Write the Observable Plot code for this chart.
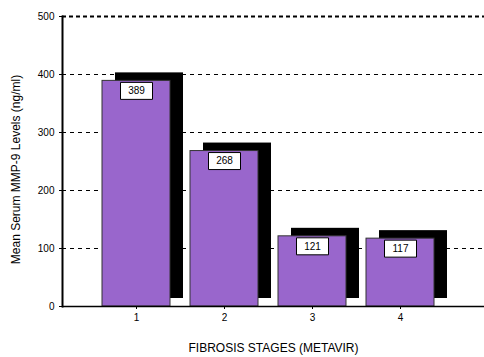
<!DOCTYPE html>
<html>
<head>
<meta charset="utf-8">
<script src="https://cdn.jsdelivr.net/npm/d3@7"></script>
<script src="https://cdn.jsdelivr.net/npm/@observablehq/plot@0.6"></script>
<style>
  html, body { margin: 0; padding: 0; background: #fff; }
  #chart svg { display: block; }
</style>
</head>
<body>
<div id="chart"></div>
<script>
const stages = ["1", "2", "3", "4"];
const values = [389, 268, 121, 117];
const yTicks = [0, 100, 200, 300, 400, 500];
const gridValues = [100, 200, 300, 400];
const topValue = [500];
const yTitle = "Mean Serum MMP-9 Levels (ng/ml)";
const xTitle = "FIBROSIS STAGES (METAVIR)";

const data = stages.map((s, i) => ({stage: s, value: values[i]}));

const boxSymbol = {
  draw(context) {
    context.rect(-16, -8.5, 32, 17);
  }
};

const chart = Plot.plot({
  width: 484,
  height: 357,
  marginLeft: 62,
  marginRight: 0,
  marginTop: 16,
  marginBottom: 51,
  style: {fontFamily: "Liberation Sans, Arial, sans-serif", fontSize: "10px", color: "#000", background: "#fff"},
  x: {domain: stages, paddingInner: 0.227, paddingOuter: 0.511, align: 0.444},
  y: {domain: [0, 500]},
  marks: [
    Plot.ruleY(gridValues, {stroke: "#000", strokeDasharray: "4,4", strokeWidth: 1}),
    Plot.ruleY(topValue, {stroke: "#000", strokeDasharray: "4,3", strokeWidth: 2}),
    Plot.barY(data, {x: "stage", y: "value", fill: "#000", dx: 13, dy: -8}),
    Plot.barY(data, {x: "stage", y: "value", fill: "#9966cc", stroke: "#333", strokeWidth: 1}),
    Plot.dot(data, {x: "stage", y: "value", symbol: boxSymbol, fill: "#fff", stroke: "#000", strokeWidth: 1, dy: 10}),
    Plot.text(data, {x: "stage", y: "value", text: d => String(d.value), dy: 10, fill: "#000", fontSize: 10}),
    Plot.ruleY([0], {stroke: "#000", strokeWidth: 1.5}),
    Plot.frame({anchor: "left", stroke: "#000", strokeWidth: 2}),
    Plot.axisY({ticks: yTicks, tickSize: 3, tickPadding: 5, label: null, fontSize: 10}),
    Plot.axisX({tickSize: 3, tickPadding: 4, label: null, fontSize: 10}),
    Plot.text([yTitle], {frameAnchor: "left", textAnchor: "middle", lineAnchor: "middle", rotate: -90, dx: -46, dy: 8, fontSize: 12, fill: "#000"}),
    Plot.text([xTitle], {frameAnchor: "bottom", lineAnchor: "middle", dy: 42, fontSize: 12, fill: "#000"})
  ]
});

document.getElementById("chart").appendChild(chart);
</script>
</body>
</html>
